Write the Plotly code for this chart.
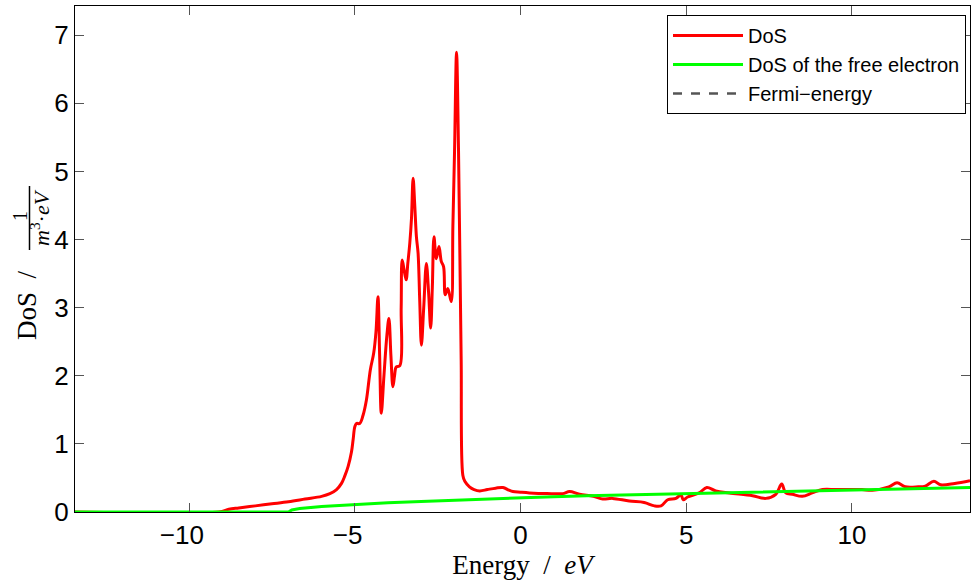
import plotly.graph_objects as go

# ---- data ----
dos_energy = [-13.44, -9.1, -8.8, -8.5, -8.0, -7.5, -7.0, -6.5, -6.0, -5.75, -5.55, -5.4,
              -5.3, -5.2, -5.1, -5.05, -5.0, -4.95, -4.85, -4.75, -4.65, -4.53, -4.43,
              -4.36, -4.30, -4.25, -4.20, -4.12, -4.03, -3.97, -3.91, -3.85, -3.80, -3.75,
              -3.64, -3.60, -3.57, -3.51, -3.45, -3.40, -3.34, -3.29, -3.24, -3.19, -3.14,
              -3.09, -3.04, -2.99, -2.92, -2.84, -2.77, -2.71, -2.66, -2.61, -2.54, -2.46,
              -2.39, -2.32, -2.27, -2.19, -2.09, -2.04, -1.99, -1.93, -1.87, -1.83, -1.79,
              -1.74, -1.68, -1.54, -1.40, -1.23, -1.0, -0.75, -0.53, -0.35, -0.23, 0.0,
              0.27, 0.8, 1.27, 1.48, 1.78, 2.2, 2.48, 2.78, 3.28, 3.73, 4.04, 4.24, 4.44,
              4.69, 4.84, 4.91, 5.04, 5.39, 5.62, 5.89, 6.3, 7.0, 7.4, 7.7, 7.88, 8.0, 8.2,
              8.5, 8.8, 9.11, 9.5, 9.91, 10.3, 10.61, 11.11, 11.36, 11.61, 12.0, 12.21,
              12.47, 12.67, 13.1, 13.56]
dos_values = [0.0, 0.0, 0.04, 0.06, 0.09, 0.12, 0.15, 0.19, 0.23, 0.27, 0.33, 0.42,
              0.53, 0.67, 0.88, 1.06, 1.25, 1.30, 1.30, 1.42, 1.64, 2.09, 2.33,
              2.65, 3.16, 2.30, 1.45, 2.00, 2.60, 2.84, 2.30, 1.84, 2.00, 2.13,
              2.15, 3.00, 3.70, 3.55, 3.41, 3.65, 3.95, 4.30, 4.90, 4.50, 4.04,
              3.80, 3.10, 2.45, 3.00, 3.65, 3.20, 2.70, 3.30, 4.04, 3.72, 3.90,
              3.68, 3.60, 3.19, 3.28, 3.09, 4.20, 5.30, 6.75, 5.30, 3.80, 2.23,
              0.54, 0.45, 0.37, 0.33, 0.31, 0.33, 0.35, 0.36, 0.32, 0.30, 0.29,
              0.28, 0.27, 0.27, 0.30, 0.26, 0.23, 0.19, 0.20, 0.16, 0.14, 0.09, 0.09, 0.18,
              0.20, 0.25, 0.18, 0.22, 0.28, 0.36, 0.31, 0.28, 0.24, 0.20, 0.26, 0.41, 0.28, 0.26,
              0.23, 0.28, 0.33, 0.33, 0.33, 0.33, 0.32, 0.37, 0.43, 0.37, 0.37, 0.38,
              0.45, 0.40, 0.42, 0.46]

free_energy = [-13.44, -7.0, -6.9, -6.66, -6.0, -5.0, -4.0, -3.0, -2.0, -1.0, 0.0, 1.0,
               2.0, 3.0, 4.0, 5.0, 6.0, 7.0, 8.0, 9.0, 10.0, 11.0, 12.0, 13.56]
free_values = [0.0, 0.0, 0.03, 0.05, 0.08, 0.11, 0.135, 0.155, 0.175, 0.19, 0.21, 0.225,
               0.24, 0.25, 0.265, 0.275, 0.29, 0.30, 0.31, 0.32, 0.33, 0.34, 0.35, 0.36]

x_ticks = [-10, -5, 0, 5, 10]
x_tick_labels = ["\u221210\u2007", "\u22125\u2007", "0", "5", "10"]
y_ticks = [0, 1, 2, 3, 4, 5, 6, 7]
x_range = [-13.44, 13.56]
y_range = [0, 7.43]

SANS = "Liberation Sans, Arial, Helvetica, sans-serif"
SERIF = "Liberation Serif, Times New Roman, serif"

fig = go.Figure()
fig.add_trace(go.Scatter(x=dos_energy, y=dos_values, mode="lines", name="DoS",
                         line=dict(color="#ff0000", width=3), line_shape="spline"))
fig.add_trace(go.Scatter(x=free_energy, y=free_values, mode="lines",
                         name="DoS of the free electron",
                         line=dict(color="#00ff00", width=3)))
fig.add_trace(go.Scatter(x=[None], y=[None], mode="lines", name="Fermi\u2212energy",
                         line=dict(color="#555555", width=2.5, dash="dash")))

L, R, T, B = 75, 1, 6, 76
W, H = 971, 588
pw = W - L - R
ph = H - T - B

def px(xp):
    return (xp - L) / pw

def py(yp):
    return (H - B - yp) / ph

axis_common = dict(showline=True, linecolor="black", linewidth=1, mirror="allticks",
                   ticks="inside", ticklen=9, tickcolor="#555555", tickwidth=1,
                   showgrid=False, zeroline=False,
                   tickfont=dict(family=SANS, size=26, color="black"))

fig.update_xaxes(range=x_range, tickvals=x_ticks, ticktext=x_tick_labels, **axis_common,
                 title=dict(text="Energy  /  <i>eV</i>",
                            font=dict(family=SERIF, size=27, color="black"),
                            standoff=4))
fig.update_yaxes(range=y_range, tickvals=y_ticks, **axis_common)

# y-axis title built as "DoS / fraction"
ann = dict(xref="paper", yref="paper", showarrow=False, textangle=-90,
           xanchor="center", yanchor="middle")
fig.add_annotation(text="DoS  /", x=px(27), y=py(305),
                   font=dict(family=SERIF, size=27, color="black"), **ann)
fig.add_annotation(text="1", x=px(20), y=py(216),
                   font=dict(family=SERIF, size=20, color="black"), **ann)
fig.add_annotation(text="<i>m</i><sup>3</sup>\u00b7<i>eV</i>",
                   x=px(40), y=py(218),
                   font=dict(family=SERIF, size=22, color="black"), **ann)
fig.add_shape(type="line", xref="paper", yref="paper",
              x0=px(29.5), x1=px(29.5), y0=py(250), y1=py(186),
              line=dict(color="black", width=1.5))

fig.update_layout(
    width=W, height=H,
    margin=dict(l=L, r=R, t=T, b=B),
    plot_bgcolor="white", paper_bgcolor="white",
    legend=dict(x=px(966), y=py(15), xanchor="right", yanchor="top",
                bgcolor="white", bordercolor="black", borderwidth=1,
                font=dict(family=SANS, size=20, color="black"),
                tracegroupgap=0, itemwidth=70),
    showlegend=True,
)

fig.write_html("out.html",
               config={"displayModeBar": False},
               post_script="document.body.style.margin='0';"
                           "document.body.style.overflow='hidden';")
